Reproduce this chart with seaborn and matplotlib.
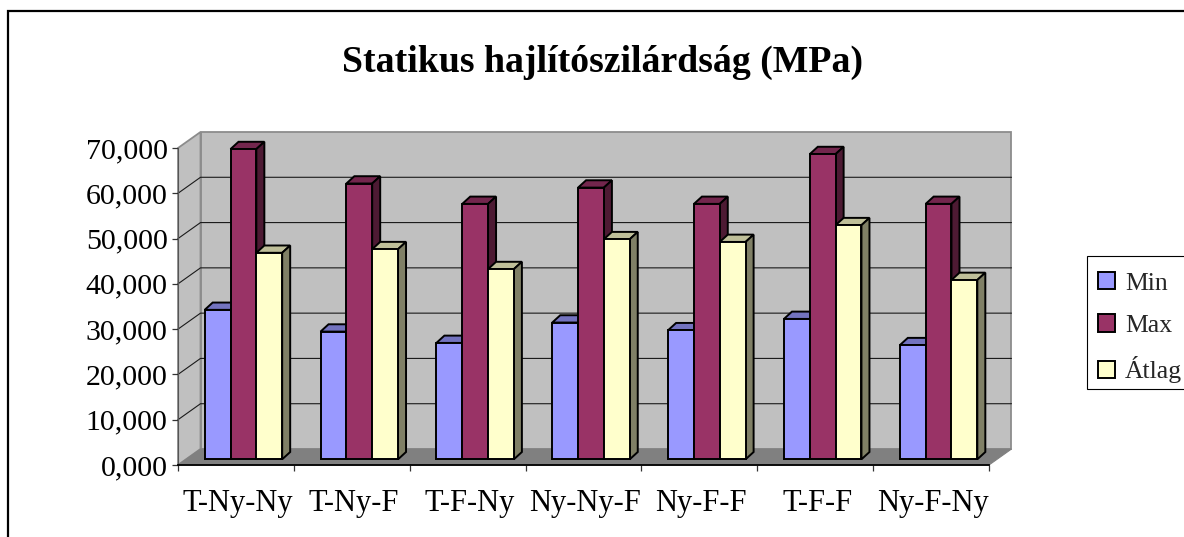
import matplotlib
matplotlib.use('Agg')
import matplotlib.pyplot as plt
from matplotlib.patches import Polygon, Rectangle
from matplotlib.transforms import ScaledTranslation
import numpy as np
import pandas as pd
import seaborn as sns

categories = ['T-Ny-Ny', 'T-Ny-F', 'T-F-Ny', 'Ny-Ny-F', 'Ny-F-F', 'T-F-F', 'Ny-F-Ny']
min_values = [33.0, 28.2, 25.7, 30.2, 28.5, 31.0, 25.2]
max_values = [68.5, 60.9, 56.4, 60.0, 56.4, 67.4, 56.4]
avg_values = [45.6, 46.4, 42.0, 48.6, 48.0, 51.7, 39.6]
series_names = ['Min', 'Max', 'Átlag']
series_colors = ['#9999FF', '#993366', '#FFFFCC']
y_ticks = [0, 10, 20, 30, 40, 50, 60, 70]
y_tick_labels = ['0,000', '10,000', '20,000', '30,000', '40,000', '50,000', '60,000', '70,000']

W, H = 1184, 537
AX_LEFT, AX_RIGHT, AX_TOP, AX_BOTTOM = 178, 989, 148, 465
FONT = 'Liberation Serif'

sns.set_theme(style='white')
plt.rcParams['font.family'] = [FONT, 'DejaVu Sans']

df = pd.DataFrame({
    'Minta': categories * 3,
    'Sorozat': np.repeat(series_names, len(categories)),
    'MPa': min_values + max_values + avg_values,
})

fig = plt.figure(figsize=(W / 100, H / 100), dpi=100)
ax = fig.add_axes([AX_LEFT / W, 1 - AX_BOTTOM / H,
                   (AX_RIGHT - AX_LEFT) / W, (AX_BOTTOM - AX_TOP) / H])
ax.patch.set_visible(False)

sns.barplot(data=df, x='Minta', y='MPa', hue='Sorozat', hue_order=series_names,
            palette=series_colors, saturation=1, width=0.669, gap=0,
            edgecolor='black', linewidth=1.4, errorbar=None, ax=ax)

ax.set_xlim(-0.5, 6.5)
ax.set_ylim(0, 70)

# pixel sizes of the 3D look, turned into data units
px_x = 7 / (AX_RIGHT - AX_LEFT)
px_y = 70 / (AX_BOTTOM - AX_TOP)
depth_x, depth_y = 22.5 * px_x, 16 * px_y
front_x, front_y = 7.5 * px_x, 5.7 * px_y
bar_dx, bar_dy = 8 * px_x, 7.3 * px_y
x0, x1 = -0.5, 6.5
wall = '#C0C0C0'
wall_edge = '#8C8C8C'

# back wall, side wall, floor
ax.add_patch(Polygon([(x0 + depth_x, depth_y), (x1 + depth_x, depth_y),
                      (x1 + depth_x, 70 + depth_y), (x0 + depth_x, 70 + depth_y)],
                     fc=wall, ec=wall_edge, lw=1.3, clip_on=False, zorder=0.5))
ax.add_patch(Polygon([(x0, 0), (x0 + depth_x, depth_y),
                      (x0 + depth_x, 70 + depth_y), (x0, 70)],
                     fc=wall, ec=wall_edge, lw=1.3, clip_on=False, zorder=0.5))
ax.add_patch(Polygon([(x0, 0), (x1, 0), (x1 + depth_x, depth_y), (x0 + depth_x, depth_y)],
                     fc='#808080', ec='#808080', lw=0.8, clip_on=False, zorder=0.6))

# gridlines go across the back wall and down the side wall
for v in y_ticks[1:-1]:
    ax.plot([x0, x0 + depth_x, x1 + depth_x], [v, v + depth_y, v + depth_y],
            color='#1A1A1A', lw=0.8, clip_on=False, zorder=0.7)


def shade(color, factor):
    rgb = np.array(matplotlib.colors.to_rgb(color))
    return tuple(rgb * factor)


# move the fronts onto the floor and build top and side from each bar
for i, container in enumerate(ax.containers):
    z = 2 + i
    color = series_colors[i]
    for bar in container:
        bar.set_x(bar.get_x() + front_x)
        bar.set_y(bar.get_y() + front_y)
        bar.set_clip_on(False)
        bar.set_zorder(z + 0.5)
        left, bottom = bar.get_x(), bar.get_y()
        right, top = left + bar.get_width(), bottom + bar.get_height()
        ax.add_patch(Polygon([(left, top), (right, top), (right + bar_dx, top + bar_dy), (left + bar_dx, top + bar_dy)],
                             fc=shade(color, 0.75), ec='black', lw=1.4, clip_on=False, zorder=z))
        ax.add_patch(Polygon([(right, bottom), (right + bar_dx, bottom + bar_dy), (right + bar_dx, top + bar_dy), (right, top)],
                             fc=shade(color, 0.5), ec='black', lw=1.4, clip_on=False, zorder=z))

sns.despine(ax=ax, top=True, right=True)
ax.spines['left'].set_color('#555555')
ax.spines['left'].set_linewidth(0.8)
ax.spines['bottom'].set_color('black')
ax.spines['bottom'].set_linewidth(1.3)
ax.spines['left'].set_zorder(1)

ax.set_yticks(y_ticks)
ax.set_yticklabels(y_tick_labels)
ax.set_xticks(range(len(categories)))
ax.set_xticklabels(categories)
ax.set_xticks(np.arange(-0.5, 7), minor=True)
ax.tick_params(axis='x', which='major', length=0, pad=17, labelsize=22, labelcolor='black')
ax.tick_params(axis='x', which='minor', length=4.5, width=0.9, color='#333333', bottom=True)
ax.tick_params(axis='y', left=True, length=4.5, width=0.9, color='#333333', pad=3,
               labelsize=21.5, labelcolor='black')
ax.set_xlabel('')
ax.set_ylabel('')

label_shift = ScaledTranslation(2 / 100, 0, fig.dpi_scale_trans)
for label in ax.get_xticklabels():
    label.set_transform(label.get_transform() + label_shift)

ax.set_title('Statikus hajlítószilárdság (MPa)', fontsize=27.2, fontweight='bold',
             color='black', x=(603 - AX_LEFT) / (AX_RIGHT - AX_LEFT), pad=55)

# legend box is drawn apart, its rows sit lower in the box than matplotlib would put them
sns.move_legend(ax, loc='upper left', bbox_to_anchor=(1087 / W, 1 - 261 / H),
                bbox_transform=fig.transFigure, title=None, frameon=False,
                fontsize=18.5, borderpad=0.43, borderaxespad=0,
                handlelength=0.66, handleheight=0.66, handletextpad=0.39, labelspacing=0.76)
fig.add_artist(Rectangle((1087 / W, 1 - 389 / H), 0.2, 133 / H, transform=fig.transFigure,
                         fc='white', ec='black', lw=0.8, zorder=-1))

# chart frame, open on the right and at the bottom of the crop
fig.add_artist(Rectangle((8 / W, -0.1), 1.2, 1.1 - 11 / H, transform=fig.transFigure,
                         fc='none', ec='black', lw=1.6))

fig.savefig('out.png', dpi=100)
